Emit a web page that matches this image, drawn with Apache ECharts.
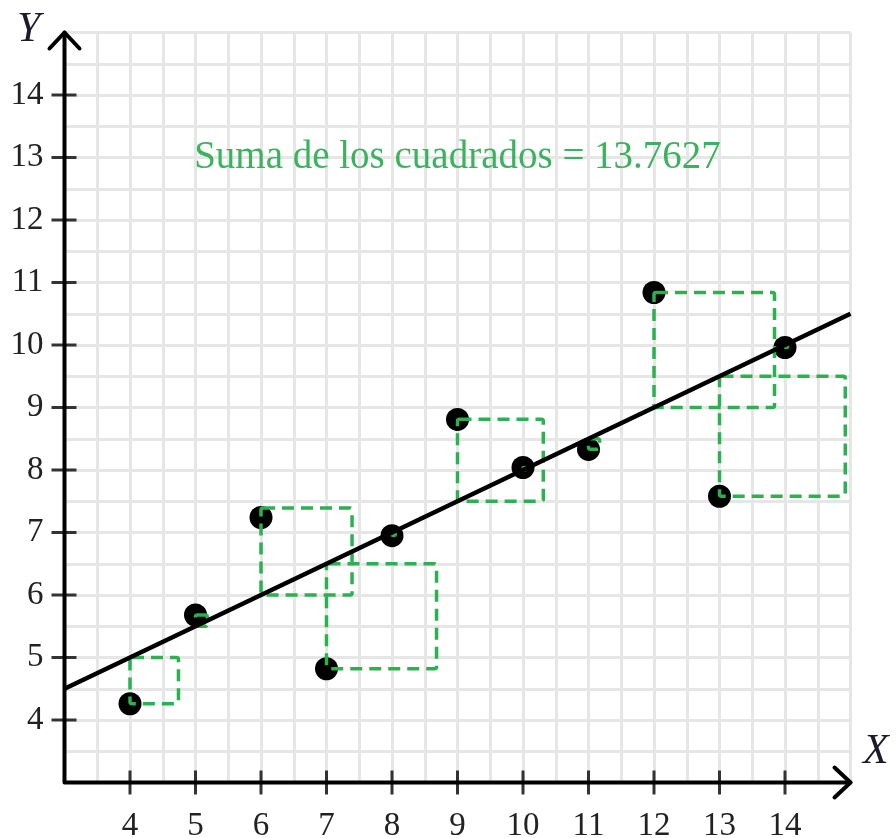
<!DOCTYPE html>
<html>
<head>
<meta charset="utf-8">
<script src="https://cdn.jsdelivr.net/npm/echarts@6/dist/echarts.min.js"></script>
<style>
  html, body { margin: 0; padding: 0; background: #ffffff; }
  #chart { width: 896px; height: 838px; }
</style>
</head>
<body>
<div id="chart"></div>
<script>
// Observations
const xValues = [4, 5, 6, 7, 8, 9, 10, 11, 12, 13, 14];
const yValues = [4.26, 5.68, 7.24, 4.82, 6.95, 8.81, 8.04, 8.33, 10.84, 7.58, 9.96];

// Side length of each residual square, measured from the fitted line
const squareSides = [0.74, 0.18, 1.39, 1.68, 0.05, 1.31, 0.04, 0.17, 1.84, 1.92, 0.04];

// Axis tick labels
const xTickLabels = [4, 5, 6, 7, 8, 9, 10, 11, 12, 13, 14];
const yTickLabels = [4, 5, 6, 7, 8, 9, 10, 11, 12, 13, 14];

// Extent of the fitted line
const lineXRange = [3, 15];

// Annotation
const sumLabel = 'Suma de los cuadrados = 13.7627';

// Least-squares fit
const n = xValues.length;
const mx = xValues.reduce((a, b) => a + b, 0) / n;
const my = yValues.reduce((a, b) => a + b, 0) / n;
let sxy = 0, sxx = 0;
for (let i = 0; i < n; i++) {
  sxy += (xValues[i] - mx) * (yValues[i] - my);
  sxx += (xValues[i] - mx) * (xValues[i] - mx);
}
const slope = sxy / sxx;
const intercept = my - slope * mx;
const fitted = xValues.map(x => intercept + slope * x);

const SERIF = '"Liberation Serif", "DejaVu Serif", serif';
const GREEN = '#2bb14f';
const AX_MIN = 3, AX_MAX = 15;

const chart = echarts.init(document.getElementById('chart'), null, { renderer: 'canvas' });

const option = {
  backgroundColor: '#ffffff',
  animation: false,
  grid: { left: 64.5, top: 32.5, width: 786, height: 750, containLabel: false, outerBoundsMode: 'none' },
  xAxis: {
    type: 'value', min: AX_MIN, max: AX_MAX, interval: 0.5,
    axisLine: { show: false },
    axisTick: { show: false },
    splitLine: { show: true, lineStyle: { color: '#e6e6e6', width: 3 } },
    axisLabel: {
      margin: 27,
      fontFamily: SERIF, fontSize: 33, color: '#222',
      formatter: v => (xTickLabels.indexOf(v) >= 0 ? String(v) : '')
    }
  },
  yAxis: {
    type: 'value', min: AX_MIN, max: AX_MAX, interval: 0.5,
    axisLine: { show: false },
    axisTick: { show: false },
    splitLine: { show: true, lineStyle: { color: '#e6e6e6', width: 3 } },
    axisLabel: {
      margin: 21,
      fontFamily: SERIF, fontSize: 33, color: '#222',
      formatter: v => (yTickLabels.indexOf(v) >= 0 ? String(v) : '')
    }
  },
  series: [
    // Axes with arrow heads and tick marks
    {
      type: 'custom',
      z: 1,
      silent: true,
      data: [0],
      renderItem: function (params, api) {
        const o = api.coord([AX_MIN, AX_MIN]);
        const xe = api.coord([AX_MAX, AX_MIN]);
        const ye = api.coord([AX_MIN, AX_MAX]);
        const children = [];
        const axisStyle = { stroke: '#000', lineWidth: 4, fill: null, lineCap: 'round', lineJoin: 'round' };
        xTickLabels.forEach(v => {
          const p = api.coord([v, AX_MIN]);
          children.push({ type: 'line', shape: { x1: p[0], y1: p[1] - 12, x2: p[0], y2: p[1] + 12 },
            style: { stroke: '#333', lineWidth: 3 } });
        });
        yTickLabels.forEach(v => {
          const p = api.coord([AX_MIN, v]);
          children.push({ type: 'line', shape: { x1: p[0] - 13, y1: p[1], x2: p[0] + 12, y2: p[1] },
            style: { stroke: '#333', lineWidth: 3 } });
        });
        children.push({ type: 'polyline', shape: { points: [[ye[0], ye[1]], [o[0], o[1]], [xe[0], xe[1]]] }, style: axisStyle });
        children.push({ type: 'polyline', shape: { points: [[xe[0] - 16, xe[1] - 15], [xe[0], xe[1]], [xe[0] - 16, xe[1] + 15]] }, style: axisStyle });
        children.push({ type: 'polyline', shape: { points: [[ye[0] - 15, ye[1] + 16], [ye[0], ye[1]], [ye[0] + 15, ye[1] + 16]] }, style: axisStyle });
        return { type: 'group', children: children };
      }
    },
    // Observations
    {
      type: 'scatter',
      z: 2,
      symbol: 'circle',
      symbolSize: 23,
      itemStyle: { color: '#000', opacity: 1 },
      data: xValues.map((x, i) => [x, yValues[i]])
    },
    // Residual squares: anchored on the fitted line, extending toward the observation
    {
      type: 'custom',
      z: 3,
      silent: true,
      data: xValues.map((x, i) => [x, yValues[i], fitted[i], squareSides[i]]),
      renderItem: function (params, api) {
        const x = api.value(0), y = api.value(1), f = api.value(2), side = api.value(3);
        const far = y >= f ? f + side : f - side;
        const p1 = api.coord([x, Math.max(far, f)]);
        const p2 = api.coord([x + side, Math.min(far, f)]);
        return {
          type: 'rect',
          shape: { x: p1[0], y: p1[1], width: p2[0] - p1[0], height: p2[1] - p1[1], r: 2 },
          style: { fill: null, stroke: GREEN, lineWidth: 3.5, lineDash: [12, 7], lineJoin: 'round' }
        };
      }
    },
    // Fitted line
    {
      type: 'line',
      z: 4,
      symbol: 'none',
      lineStyle: { color: '#000', width: 4.5 },
      data: lineXRange.map(x => [x, intercept + slope * x])
    },
    // Sum of squares annotation
    {
      type: 'custom',
      z: 5,
      silent: true,
      data: [[9, 13]],
      renderItem: function (params, api) {
        const p = api.coord([api.value(0), api.value(1)]);
        return {
          type: 'text',
          style: {
            x: p[0], y: p[1],
            text: sumLabel,
            fill: '#3bb25e', font: '39px ' + SERIF,
            align: 'center', verticalAlign: 'middle'
          }
        };
      }
    }
  ],
  graphic: [
    { type: 'text', left: 17, top: 9, style: { text: 'Y', font: 'italic 42px ' + SERIF, fill: '#1a1a2a' } },
    { type: 'text', left: 863, top: 731, style: { text: 'X', font: 'italic 42px ' + SERIF, fill: '#1a1a2a' } }
  ]
};

chart.setOption(option);
</script>
</body>
</html>
